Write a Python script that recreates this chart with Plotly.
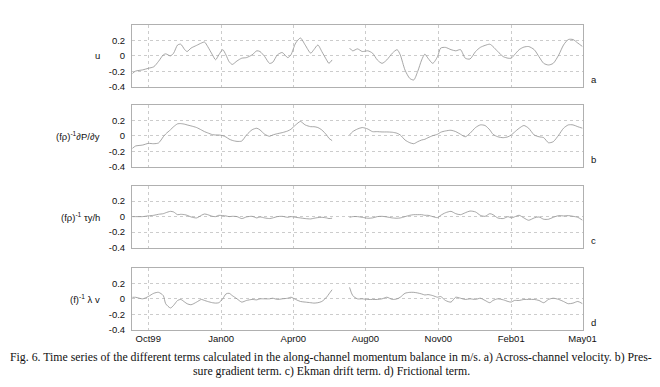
import pandas as pd
import plotly.graph_objects as go

# ---- data (days since 1999-10-01) ----
days = [-20, -16, -7, 0, 7, 13, 19, 22, 28, 32, 37, 41, 46, 49, 54, 61, 67, 71, 75, 81,
        85, 89, 94, 98, 102, 106, 112, 118, 124, 131, 137, 141, 147, 153, 157, 163, 169, 176, 180, 186,
        192, 198, 205, 209, 214, 219, 225, 228, 232, 243, 254, 258, 264, 270, 277, 283, 289, 295, 301, 308,
        314, 318, 324, 330, 335, 340, 345, 349, 353, 359, 365, 369, 375, 382, 388, 394, 400, 406, 413, 419,
        425, 431, 435, 441, 448, 454, 458, 462, 468, 474, 480, 487, 493, 499, 505, 511, 518, 524, 530, 536,
        542, 548]

u_vel = [-0.226, -0.196, -0.18, -0.16, -0.14, -0.07, 0.013, 0.026, 0.0, 0.035,
         0.14, 0.15, 0.08, 0.056, 0.1, 0.135, 0.165, 0.178, 0.12, 0.013,
         -0.05, 0.013, 0.08, 0.013, -0.074, -0.11, -0.065, -0.03, -0.022, 0.013,
         0.065, 0.056, -0.01, -0.096, -0.083, 0.013, 0.043, -0.022, 0.013, 0.165,
         0.23, 0.14, 0.035, 0.08, 0.14, 0.056, -0.052, -0.096, -0.052, None,
         0.1, 0.065, 0.09, 0.056, 0.065, 0.035, -0.052, -0.096, -0.052, 0.035,
         0.08, 0.013, -0.183, -0.29, -0.31, -0.2, -0.052, 0.022, -0.03, -0.096,
         -0.01, 0.1, 0.109, 0.08, 0.065, 0.08, -0.03, -0.04, 0.056, 0.109,
         0.135, 0.15, 0.12, 0.056, -0.01, -0.03, -0.03, 0.013, 0.08, 0.113,
         0.12, 0.08, -0.01, -0.096, -0.117, -0.096, 0.013, 0.14, 0.21, 0.21,
         0.165, 0.12]

pressure = [-0.16, -0.13, -0.117, -0.096, -0.1, -0.09, -0.01, 0.026, 0.08, 0.12,
            0.157, 0.16, 0.152, 0.143, 0.13, 0.109, 0.078, 0.056, 0.04, 0.017,
            0.013, 0.013, 0.004, -0.013, -0.04, -0.057, -0.07, -0.065, 0.013, 0.08,
            0.1, 0.078, 0.022, -0.004, 0.013, 0.03, 0.043, 0.065, 0.087, 0.143,
            0.187, 0.143, 0.12, 0.12, 0.109, 0.078, 0.013, -0.03, -0.06, None,
            0.013, 0.056, 0.09, 0.109, 0.09, 0.056, 0.056, 0.052, 0.052, 0.048,
            0.035, 0.013, -0.052, -0.087, -0.1, -0.074, -0.052, -0.043, -0.022, 0.004,
            0.022, 0.048, 0.065, 0.074, 0.056, 0.022, -0.01, 0.035, 0.109, 0.143,
            0.135, 0.078, 0.022, -0.01, -0.022, -0.01, 0.013, 0.048, 0.1, 0.135,
            0.1, 0.013, -0.01, -0.022, -0.087, -0.074, 0.013, 0.1, 0.143, 0.143,
            0.12, 0.1]

ekman = [0, 0, 0, 0.01, 0.017, 0.03, 0.038, 0.05, 0.068, 0.06,
         0.025, 0.03, 0.025, 0.017, -0.004, -0.017, 0.017, 0.034, 0.025, 0.004,
         0, 0.017, 0.013, 0.009, 0, 0.004, 0, -0.025, -0.004, 0.004,
         -0.017, -0.004, -0.017, -0.025, -0.017, 0, 0.004, -0.009, 0, -0.009,
         -0.017, -0.025, -0.03, -0.021, -0.013, -0.009, -0.017, -0.025, -0.02, None,
         -0.009, 0, 0, -0.009, -0.021, -0.017, 0, 0.004, -0.004, -0.017,
         -0.021, -0.017, 0, 0.017, 0.025, 0.025, 0.025, 0.017, 0.017, 0,
         -0.013, 0.017, 0.05, 0.068, 0.038, 0.025, 0.05, 0.072, 0.06, 0.017,
         0.004, 0.038, 0.025, -0.017, -0.025, 0, -0.017, -0.004, 0.017, -0.017,
         -0.047, -0.017, -0.004, -0.034, -0.034, -0.009, 0.013, 0.009, 0.013, 0.004,
         -0.009, -0.047]

friction = [0.02, 0.02, 0, 0.03, 0.072, 0.084, 0.042, -0.063, -0.118, -0.084,
            -0.021, -0.008, -0.042, -0.063, -0.076, -0.042, -0.008, -0.021, -0.034, -0.05,
            -0.055, -0.05, 0, 0.063, 0.072, 0.042, 0, -0.042, -0.021, -0.008,
            -0.013, 0, 0, 0, 0.008, -0.008, 0, 0.008, 0.021, -0.008,
            -0.034, -0.042, -0.05, -0.055, -0.05, -0.034, 0.021, 0.063, 0.118, None,
            0.148, 0.042, 0, 0, -0.008, -0.008, -0.008, 0, 0.021, -0.008,
            0, 0.021, 0.072, 0.084, 0.084, 0.076, 0.063, 0.05, 0.055, 0.042,
            0.021, 0.03, -0.021, -0.042, 0.021, 0.008, -0.008, 0, -0.008, 0.008,
            -0.021, -0.05, -0.021, 0, -0.013, -0.034, -0.042, -0.021, -0.021, -0.008,
            -0.008, -0.008, -0.021, -0.05, -0.008, 0.008, -0.008, -0.034, -0.063, -0.055,
            -0.034, -0.063]

tick_dates = ["1999-10-01", "2000-01-01", "2000-04-01", "2000-07-01",
              "2000-10-01", "2001-01-01", "2001-04-01"]
tick_labels = ["Oct99", "Jan00", "Apr00", "Aug00", "Nov00", "Feb01", "May01"]
y_ticks = [-0.4, -0.2, 0, 0.2]
y_tick_labels = ["-0.4", "-0.2", "0", "0.2"]

panel_labels = ["u", "(fρ)<sup>-1</sup>∂P/∂y", "(fρ)<sup>-1</sup> τy/h", "(f)<sup>-1</sup> λ v"]
panel_letters = ["a", "b", "c", "d"]
series = [u_vel, pressure, ekman, friction]

caption1 = ("Fig. 6. Time series of the different terms calculated in the along-channel momentum "
            "balance in m/s. a) Across-channel velocity. b) Pres-")
caption2 = "sure gradient term. c) Ekman drift term. d) Frictional term."

# ---- figure ----
W, H = 660, 387
dates = pd.to_datetime("1999-10-01") + pd.to_timedelta(days, unit="D")

# panel pixel boxes (top, bottom)
boxes = [(17, 80), (98.3, 161), (180, 242.7), (263.3, 326)]
x_left, x_right = 126.7, 587.0

fig = go.Figure()
layout = dict(width=W, height=H, margin=dict(l=0, r=0, t=0, b=0),
              paper_bgcolor="white", plot_bgcolor="white", showlegend=False)
annotations = []
tickfont = dict(family="Liberation Sans, Arial", size=9.5, color="#111")
labfont = dict(family="Liberation Sans, Arial", size=9.5, color="#111")
for i, (vals, (top, bot)) in enumerate(zip(series, boxes)):
    n = "" if i == 0 else str(i + 1)
    fig.add_trace(go.Scatter(x=dates, y=vals, mode="lines",
                             line=dict(color="#909090", width=0.8, shape="spline", smoothing=0.7),
                             connectgaps=False, xaxis="x" + n, yaxis="y" + n,
                             hoverinfo="skip"))
    layout["xaxis" + n] = dict(
        domain=[x_left / W, x_right / W], anchor="y" + n, type="date",
        range=["1999-09-10 12:00", "2001-04-01"],
        tickmode="array", tickvals=tick_dates, ticktext=tick_labels,
        showticklabels=(i == 3), tickfont=tickfont, ticks="",
        showgrid=True, gridcolor="#cccccc", griddash="dot", gridwidth=1,
        showline=True, linecolor="#b0b0b0", linewidth=1, mirror=True, zeroline=False)
    layout["yaxis" + n] = dict(
        domain=[1 - bot / H, 1 - top / H], anchor="x" + n,
        range=[-0.4, 0.4], tickmode="array", tickvals=y_ticks, ticktext=y_tick_labels,
        tickfont=tickfont, ticks="", ticklabelstandoff=4,
        showgrid=True, gridcolor="#cccccc", griddash="dot", gridwidth=1,
        showline=True, linecolor="#b0b0b0", linewidth=1, mirror=True, zeroline=False)
    zero_y = top + (bot - top) * 0.5
    annotations.append(dict(text=panel_labels[i], xref="paper", yref="paper",
                            x=96 / W, y=1 - zero_y / H, xanchor="right", yanchor="middle",
                            showarrow=False, font=labfont))
    annotations.append(dict(text=panel_letters[i], xref="paper", yref="paper",
                            x=594 / W, y=1 - bot / H, xanchor="left", yanchor="bottom",
                            showarrow=False, font=labfont))

capfont = dict(family="Liberation Serif, Times New Roman", size=11.8, color="#111")
annotations.append(dict(text=caption1, xref="paper", yref="paper", x=0.5, y=1 - 354 / H,
                        xanchor="center", yanchor="middle", showarrow=False, font=capfont))
annotations.append(dict(text=caption2, xref="paper", yref="paper", x=0.5, y=1 - 367.5 / H,
                        xanchor="center", yanchor="middle", showarrow=False, font=capfont))
layout["annotations"] = annotations
fig.update_layout(**layout)
fig.write_html("out.html")
